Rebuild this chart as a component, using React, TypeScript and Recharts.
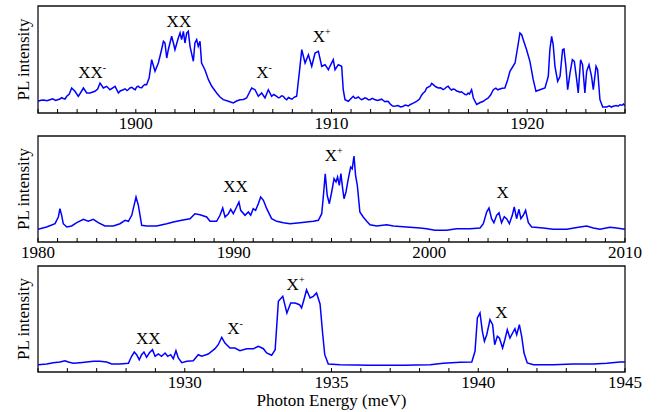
import React from 'react';
import { LineChart, Line, XAxis, YAxis, ReferenceArea, ReferenceDot } from 'recharts';

const FONT = '"Liberation Serif", "Times New Roman", Times, serif';
const BLUE = '#0000ff';

type Pt = [number, number];

// Panel 1: photon energy (meV), PL intensity (a.u.)
const spectrum1: Pt[] = [
  [1895.0, 11.7], [1895.15, 12.8], [1895.3, 13], [1895.45, 12.2], [1895.61, 13.3], [1895.75, 14.2], [1895.9, 12.5], [1896.0, 13.2], [1896.12, 14], [1896.2, 15.3],
  [1896.3, 14.5], [1896.38, 14], [1896.47, 16.7], [1896.6, 19], [1896.72, 25], [1896.89, 21.7], [1897.06, 16.7], [1897.2, 21], [1897.32, 25], [1897.49, 20],
  [1897.66, 20], [1897.91, 21.7], [1898.05, 24], [1898.17, 30], [1898.34, 25], [1898.51, 26.7], [1898.68, 23.3], [1898.94, 26.7], [1899.11, 20], [1899.2, 22],
  [1899.36, 23.3], [1899.45, 24.2], [1899.55, 22.5], [1899.62, 23.5], [1899.7, 25], [1899.8, 25.7], [1899.9, 24], [1899.97, 23.3], [1900.04, 26], [1900.12, 26.8],
  [1900.2, 25.5], [1900.3, 25.2], [1900.38, 27.3], [1900.46, 28.5], [1900.55, 28.3], [1900.68, 35], [1900.81, 53.3], [1900.98, 41.7], [1901.15, 50], [1901.3, 62],
  [1901.41, 71.7], [1901.49, 70], [1901.58, 55], [1901.66, 63.3], [1901.83, 76.7], [1901.92, 70], [1902.0, 63.3], [1902.17, 75], [1902.26, 80], [1902.34, 73.3],
  [1902.43, 81.7], [1902.51, 70], [1902.6, 80], [1902.68, 81.7], [1902.77, 66.7], [1902.94, 51.7], [1903.02, 70], [1903.11, 73.3], [1903.19, 66.7], [1903.28, 71.7],
  [1903.36, 50], [1903.53, 43.3], [1903.71, 33.3], [1903.88, 26.7], [1904.13, 20], [1904.3, 16], [1904.47, 13.3], [1904.73, 11.7], [1904.98, 10], [1905.15, 12],
  [1905.32, 13.3], [1905.5, 13.5], [1905.66, 15], [1905.92, 25], [1906.09, 23.3], [1906.26, 16.7], [1906.43, 20], [1906.6, 15], [1906.77, 23.3], [1906.94, 16.7],
  [1907.05, 18.5], [1907.2, 16.7], [1907.28, 15.2], [1907.35, 15.5], [1907.45, 17.2], [1907.54, 16.7], [1907.62, 14.5], [1907.71, 13.3], [1907.8, 15.5], [1907.9, 14.5],
  [1907.98, 13.8], [1908.05, 15], [1908.12, 16], [1908.22, 16.7], [1908.39, 46.7], [1908.48, 63.3], [1908.65, 50], [1908.82, 58.3], [1908.99, 46.7], [1909.16, 60],
  [1909.33, 61.7], [1909.5, 46.7], [1909.67, 48.3], [1909.84, 43.3], [1909.92, 46.7], [1910.09, 53.3], [1910.18, 43.3], [1910.35, 48.3], [1910.52, 46.7], [1910.6, 23.3],
  [1910.69, 13.3], [1910.86, 11.7], [1911.11, 16.7], [1911.2, 14.8], [1911.28, 15], [1911.37, 16], [1911.45, 14.5], [1911.53, 13.4], [1911.62, 14], [1911.7, 15.2],
  [1911.8, 14.5], [1911.88, 13.2], [1911.97, 13.3], [1912.08, 14.6], [1912.2, 13.5], [1912.35, 12.5], [1912.48, 13.3], [1912.56, 13.8], [1912.65, 12.5], [1912.73, 11.3],
  [1912.82, 11.7], [1912.9, 11.5], [1913.0, 9], [1913.08, 7.6], [1913.16, 6.7], [1913.28, 7.0], [1913.4, 7.5], [1913.53, 6.0], [1913.67, 6.7], [1913.76, 7.9],
  [1913.85, 7.5], [1913.93, 7.0], [1914.01, 8.3], [1914.18, 9.8], [1914.35, 11.7], [1914.5, 14], [1914.6, 17.8], [1914.69, 20], [1914.78, 21.5], [1914.86, 25],
  [1915.05, 27], [1915.12, 29.5], [1915.2, 28.3], [1915.33, 26.2], [1915.46, 25], [1915.58, 25.2], [1915.71, 23.3], [1915.8, 24.5], [1915.88, 26], [1915.96, 26.8],
  [1916.05, 24.5], [1916.13, 23], [1916.22, 24], [1916.3, 23.5], [1916.4, 22], [1916.48, 21.5], [1916.57, 20.7], [1916.65, 21.2], [1916.75, 19.5], [1916.83, 18.5],
  [1916.91, 18.3], [1916.98, 20], [1917.05, 19], [1917.16, 23.3], [1917.25, 15], [1917.42, 8.5], [1917.6, 10.5], [1917.76, 11.7], [1917.88, 13.5], [1918.01, 15],
  [1918.13, 18], [1918.27, 23.3], [1918.4, 24.8], [1918.5, 23.2], [1918.61, 24], [1918.72, 24.8], [1918.86, 25], [1919.0, 33], [1919.12, 41.7], [1919.38, 50],
  [1919.55, 70], [1919.63, 80], [1919.72, 78.3], [1919.8, 73.3], [1919.97, 63.3], [1920.14, 51.7], [1920.31, 33.3], [1920.45, 21.7], [1920.65, 23.3], [1920.91, 25],
  [1921.08, 36.7], [1921.16, 63.3], [1921.25, 76.7], [1921.33, 68.3], [1921.42, 46.7], [1921.56, 31.7], [1921.68, 36.7], [1921.81, 63.3], [1921.88, 64], [1921.98, 46.7],
  [1922.07, 23.3], [1922.19, 40], [1922.31, 53.3], [1922.41, 51.7], [1922.53, 33.3], [1922.61, 20], [1922.73, 53.3], [1922.83, 48.3], [1922.95, 20], [1923.04, 41.7],
  [1923.16, 48.3], [1923.29, 36.7], [1923.38, 23.3], [1923.52, 46.7], [1923.6, 43.3], [1923.72, 13.3], [1923.86, 6], [1924.06, 6], [1924.2, 7.2], [1924.3, 5.8],
  [1924.4, 6.7], [1924.55, 7.5], [1924.65, 6.8], [1924.74, 8.3], [1924.85, 7.8], [1924.92, 9], [1925.0, 7.3],
];

// Panel 2
const spectrum2: Pt[] = [
  [1980.0, 12.7], [1980.44, 15], [1980.87, 18.3], [1981.04, 25], [1981.12, 33.3], [1981.21, 26.7], [1981.29, 18.3], [1981.47, 15], [1981.72, 16], [1981.98, 19.3],
  [1982.32, 22.7], [1982.57, 20.7], [1982.83, 22.7], [1983.08, 19.3], [1983.42, 16], [1983.85, 16], [1984.19, 18.3], [1984.45, 21.7], [1984.62, 20.7], [1984.79, 26.7],
  [1985.01, 45], [1985.13, 36.7], [1985.3, 16.7], [1985.55, 16], [1986.06, 16], [1986.58, 18.3], [1986.92, 20], [1987.34, 21.7], [1987.77, 23.3], [1988.02, 28.3],
  [1988.28, 27.3], [1988.62, 25], [1988.79, 20.7], [1989.13, 20.7], [1989.3, 26.7], [1989.44, 34], [1989.56, 25], [1989.73, 28.3], [1989.85, 32.7], [1989.98, 28.3],
  [1990.15, 35], [1990.27, 40], [1990.36, 31.7], [1990.58, 26.7], [1990.75, 30], [1990.87, 26.7], [1991.0, 33.3], [1991.12, 31.7], [1991.26, 38.3], [1991.38, 45],
  [1991.52, 41.7], [1991.69, 33.3], [1991.94, 23.3], [1992.2, 20.7], [1992.54, 19.3], [1992.88, 18.3], [1993.39, 19.3], [1994.07, 20.7], [1994.33, 21.7], [1994.5, 28.3],
  [1994.58, 45], [1994.68, 68.3], [1994.78, 46.7], [1994.89, 38.3], [1995.01, 50], [1995.13, 63.3], [1995.23, 60], [1995.31, 65], [1995.4, 56.7], [1995.48, 68.3],
  [1995.57, 53.3], [1995.64, 43.3], [1995.74, 50], [1995.86, 63.3], [1995.98, 75], [1996.06, 73.3], [1996.15, 86], [1996.23, 66.7], [1996.32, 56.7], [1996.45, 30],
  [1996.62, 25], [1996.8, 20.7], [1996.97, 17.3], [1997.31, 16], [1997.82, 17.3], [1998.16, 16], [1998.84, 15], [1999.52, 14], [1999.86, 13.3], [2000.29, 11.7],
  [2000.88, 11.7], [2001.39, 13.3], [2002.08, 13.3], [2002.59, 14], [2002.76, 18.3], [2002.93, 30], [2003.05, 34], [2003.18, 23.3], [2003.3, 19.3], [2003.44, 26.7],
  [2003.56, 29.3], [2003.69, 19.3], [2003.83, 25.3], [2003.95, 23.3], [2004.09, 18.3], [2004.24, 26.7], [2004.34, 35], [2004.46, 23.3], [2004.58, 32.7], [2004.68, 23.3],
  [2004.8, 26.7], [2004.92, 31.7], [2005.06, 19.3], [2005.23, 15], [2005.82, 14], [2006.33, 12.7], [2007.02, 12.7], [2007.7, 15], [2008.04, 16], [2008.38, 14],
  [2008.72, 12.7], [2009.23, 14.7], [2009.57, 14], [2010.0, 12.7],
];

// Panel 3
const spectrum3: Pt[] = [
  [1925.0, 7.3], [1925.3, 8], [1925.52, 9.3], [1925.75, 10], [1925.92, 11.3], [1926.03, 10], [1926.2, 8.7], [1926.43, 9.3], [1926.66, 10], [1926.89, 10.7],
  [1927.11, 10.7], [1927.34, 10], [1927.51, 8], [1927.79, 8], [1928.08, 8.7], [1928.19, 15.7], [1928.28, 20], [1928.36, 17.3], [1928.45, 12.3], [1928.53, 17.3],
  [1928.61, 20], [1928.7, 14.7], [1928.79, 19], [1928.9, 22.3], [1928.99, 15.7], [1929.1, 18], [1929.21, 15.7], [1929.33, 19], [1929.42, 15.7], [1929.52, 17.3],
  [1929.61, 13.3], [1929.7, 21.3], [1929.78, 14], [1929.9, 9.3], [1930.07, 10.7], [1930.29, 11.3], [1930.46, 17.3], [1930.58, 15.7], [1930.8, 18], [1931.03, 23.3],
  [1931.14, 27.3], [1931.26, 34.7], [1931.37, 29], [1931.54, 24], [1931.71, 24], [1931.88, 21.3], [1932.11, 23.3], [1932.34, 23.3], [1932.51, 25.7], [1932.68, 23.3],
  [1932.79, 19], [1932.96, 16.7], [1933.08, 22.3], [1933.19, 70.7], [1933.34, 75.7], [1933.48, 59], [1933.61, 69], [1933.76, 69], [1933.91, 67.3], [1933.98, 64],
  [1934.06, 72.3], [1934.15, 82.3], [1934.27, 74], [1934.38, 75.7], [1934.49, 79], [1934.61, 68], [1934.7, 38], [1934.77, 17.3], [1934.89, 8], [1935.29, 7.3],
  [1936.31, 6.7], [1937.45, 6.7], [1938.36, 7.3], [1938.81, 8.7], [1939.38, 9.7], [1939.78, 10], [1939.89, 20.7], [1939.97, 54], [1940.06, 59], [1940.14, 40.7],
  [1940.21, 30.7], [1940.29, 37.3], [1940.4, 52.3], [1940.49, 47.3], [1940.56, 27.3], [1940.65, 35.7], [1940.72, 34], [1940.83, 24], [1940.91, 32.7], [1940.99, 42.3],
  [1941.08, 34], [1941.17, 39], [1941.25, 43.3], [1941.31, 37.3], [1941.4, 47.3], [1941.48, 35.7], [1941.56, 19], [1941.67, 9], [1941.88, 7.3], [1942.56, 7.3],
  [1943.24, 8], [1943.93, 8], [1944.38, 8.7], [1944.83, 10], [1945.0, 10],
];

const range1: [number, number] = [1895, 1925];
const range2: [number, number] = [1980, 2010];
const range3: [number, number] = [1925, 1945];

const tickLabels1 = [1900, 1910, 1920];
const tickLabels2 = [1980, 1990, 2000, 2010];
const tickLabels3 = [1930, 1935, 1940, 1945];

type Peak = { name: string; sup: string; e: number; i: number };
const peaks1: Peak[] = [
  { name: 'XX', sup: '-', e: 1897.68, i: 40.5 },
  { name: 'XX', sup: '', e: 1902.2, i: 92 },
  { name: 'X', sup: '-', e: 1906.47, i: 40.5 },
  { name: 'X', sup: '+', e: 1909.36, i: 77 },
];
const peaks2: Peak[] = [
  { name: 'XX', sup: '', e: 1990.1, i: 55.7 },
  { name: 'X', sup: '+', e: 1994.97, i: 87.2 },
  { name: 'X', sup: '', e: 2003.74, i: 50.2 },
];
const peaks3: Peak[] = [
  { name: 'XX', sup: '', e: 1928.76, i: 34.3 },
  { name: 'X', sup: '-', e: 1931.66, i: 44.3 },
  { name: 'X', sup: '+', e: 1933.68, i: 87.8 },
  { name: 'X', sup: '', e: 1940.79, i: 60.3 },
];

const yLabel = 'PL intensity';
const xLabel = 'Photon Energy (meV)';

function minorTicks(r: [number, number]) {
  const out: number[] = [];
  for (let v = r[0]; v <= r[1]; v += 1) out.push(v);
  return out;
}

const annotation = (p: Peak) => (props: any) => {
  const vb = props.viewBox || {};
  const cx = (vb.x ?? vb.cx ?? 0) + (vb.width || 0) / 2;
  const cy = (vb.y ?? vb.cy ?? 0) + (vb.height || 0) / 2;
  const w = p.name.length * 12.27;
  return (
    <text x={cx - w / 2} y={cy + 5.8} fontFamily={FONT} fontSize={17} fill="#000">
      {p.name}
      {p.sup ? (
        <tspan dy={-7} fontSize={10}>
          {p.sup}
        </tspan>
      ) : null}
    </text>
  );
};

type PanelProps = {
  top: number;
  height: number;
  bottom: number;
  spectrum: Pt[];
  range: [number, number];
  labels: number[];
  yMax: number;
  peaks: Peak[];
  plotCenter: number;
  showXLabel?: boolean;
};

function Panel({ top, height, bottom, spectrum, range, labels, yMax, peaks, plotCenter, showXLabel }: PanelProps) {
  const rows = spectrum.map(([e, i]) => ({ e, i }));
  const ticks = minorTicks(range);
  return (
    <div style={{ position: 'absolute', left: 0, top, width: 657, height }}>
      <LineChart width={657} height={height} data={rows} margin={{ top: 5, right: 32, bottom, left: 38 }}>
        <XAxis
          xAxisId="b"
          dataKey="e"
          type="number"
          domain={range}
          allowDataOverflow
          ticks={ticks}
          interval={0}
          tickFormatter={(v: number) => (labels.includes(v) ? String(v) : '')}
          tickSize={-4}
          tickMargin={8}
          axisLine={false}
          stroke="#000"
          tickLine={{ stroke: '#000', strokeWidth: 1 }}
          tick={{ fill: '#000', fontSize: 17, fontFamily: FONT }}
          height={20}
          label={
            showXLabel
              ? {
                  content: () => (
                    <text x={331.5} y={145.7} textAnchor="middle" fontFamily={FONT} fontSize={17} fill="#000">
                      {xLabel}
                    </text>
                  ),
                }
              : undefined
          }
        />
        <XAxis
          xAxisId="t"
          orientation="top"
          dataKey="e"
          type="number"
          domain={range}
          allowDataOverflow
          ticks={ticks}
          interval={0}
          tick={false}
          tickSize={-4}
          axisLine={false}
          stroke="#000"
          tickLine={{ stroke: '#000', strokeWidth: 1 }}
          height={1}
          label={{
            content: () => (
              <text
                x={28.7}
                y={plotCenter}
                transform={`rotate(-90 28.7 ${plotCenter})`}
                textAnchor="middle"
                fontFamily={FONT}
                fontSize={17}
                fill="#000"
              >
                {yLabel}
              </text>
            ),
          }}
        />
        <YAxis hide domain={[0, yMax]} allowDataOverflow />
        <ReferenceArea
          xAxisId="b"
          x1={range[0]}
          x2={range[1]}
          y1={0}
          y2={yMax}
          fill="none"
          fillOpacity={0}
          stroke="#111"
          strokeWidth={1.3}
          ifOverflow="visible"
        />
        <Line
          xAxisId="b"
          dataKey="i"
          type="linear"
          stroke={BLUE}
          strokeWidth={1.5}
          dot={false}
          activeDot={false}
          isAnimationActive={false}
        />
        {peaks.map((p, k) => (
          <ReferenceDot
            key={k}
            xAxisId="b"
            x={p.e}
            y={p.i}
            r={0}
            fill="none"
            stroke="none"
            ifOverflow="visible"
            label={{ content: annotation(p) }}
          />
        ))}
      </LineChart>
    </div>
  );
}

export default function App() {
  return (
    <div style={{ position: 'absolute', left: 0, top: 0, width: 657, height: 412, background: '#fff' }}>
      <Panel top={0} height={140} bottom={7} spectrum={spectrum1} range={range1} labels={tickLabels1} yMax={107} peaks={peaks1} plotCenter={59.5} />
      <Panel top={130} height={140} bottom={8} spectrum={spectrum2} range={range2} labels={tickLabels2} yMax={106} peaks={peaks2} plotCenter={59} />
      <Panel top={260} height={152} bottom={20} spectrum={spectrum3} range={range3} labels={tickLabels3} yMax={106} peaks={peaks3} plotCenter={59} showXLabel />
    </div>
  );
}
